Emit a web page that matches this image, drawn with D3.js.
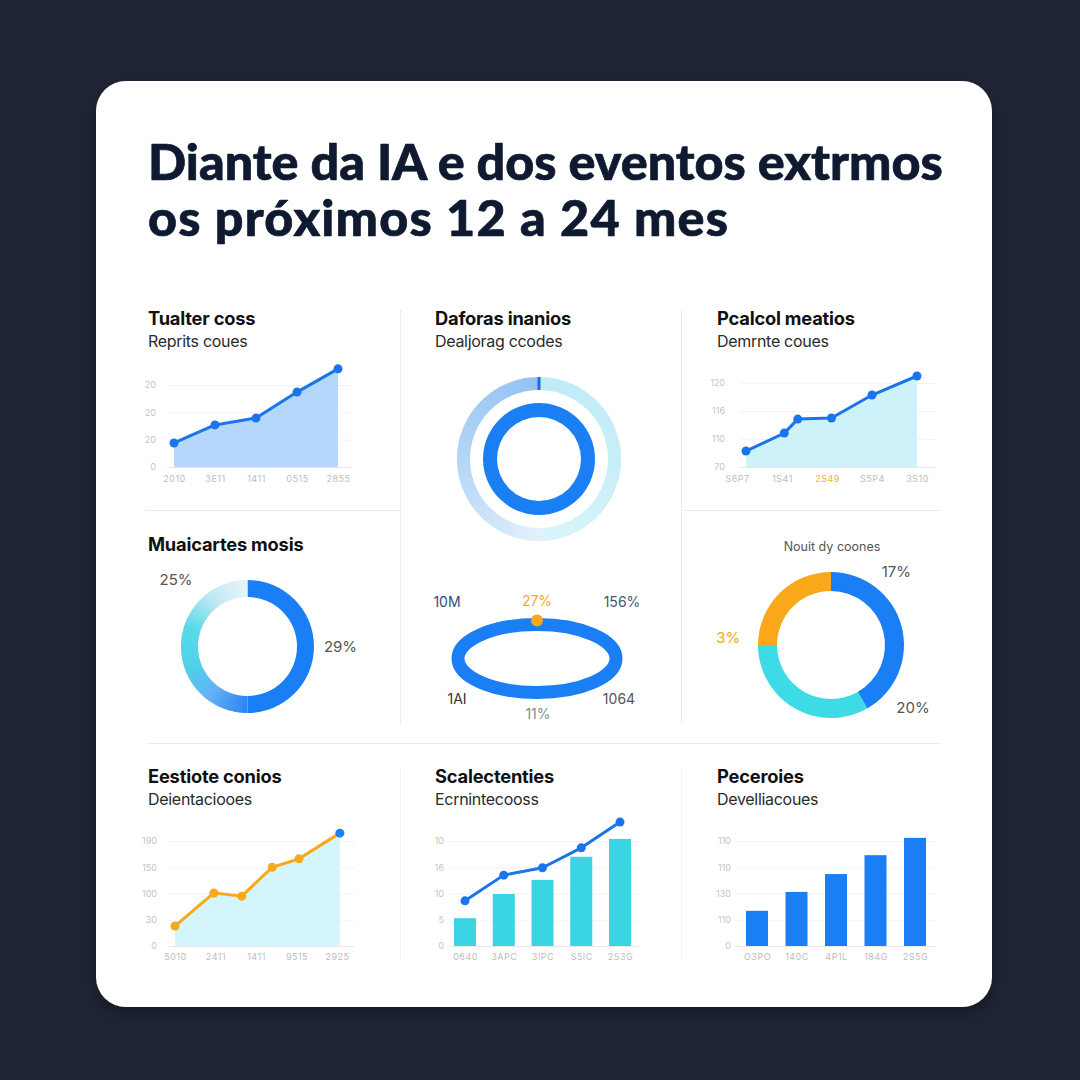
<!DOCTYPE html>
<html><head><meta charset="utf-8">
<script src="https://cdn.jsdelivr.net/npm/d3@7"></script>
<style>html,body{margin:0;padding:0;background:#1f2535;} svg{display:block}</style>
</head><body>
<script>
// ---------------- DATA ----------------
const titleLines = ["Diante da IA e dos eventos extrmos", "os próximos 12 a 24 mes"];

const p1Title = "Tualter coss", p1Subtitle = "Reprits coues";
const p1Labels = ["2010", "3E11", "1411", "0515", "2855"];
const p1Values = [8.8, 15.4, 17.9, 27.4, 35.9];
const p1Ticks = [0, 10, 20, 30];
const p1TickLabels = ["0", "20", "20", "20"];

const p2Title = "Daforas inanios", p2Subtitle = "Dealjorag ccodes";
const p2OuterValues = [50, 50];
const p2InnerValues = [100];

const p3Title = "Pcalcol meatios", p3Subtitle = "Demrnte coues";
const p3Labels = ["S6P7", "1S41", "2S49", "S5P4", "3S10"];
const p3PointPos = [0.2, 1.05, 1.35, 2.1, 3.0, 4.0];
const p3Values = [5.7, 12.1, 17.1, 17.5, 25.7, 32.5];
const p3Ticks = [0, 10, 20, 30];
const p3TickLabels = ["70", "110", "116", "120"];

const p4Title = "Muaicartes mosis";
const p4Values = [50, 50];
const p4Labels = ["29%", "25%"];

const p5Labels = ["10M", "27%", "156%", "1AI", "11%", "1064"];

const p6Caption = "Nouit dy coones";
const p6Values = [41.8, 33.3, 25];
const p6Labels = ["17%", "20%", "3%"];

const p7Title = "Eestiote conios", p7Subtitle = "Deientaciooes";
const p7Labels = ["5010", "2411", "1411", "9515", "2925"];
const p7PointPos = [0, 0.96, 1.65, 2.4, 3.06, 4.07];
const p7Values = [38, 101, 95, 150, 166, 215];
const p7Ticks = [0, 50, 100, 150, 200];
const p7TickLabels = ["0", "30", "100", "150", "190"];

const p8Title = "Scalectenties", p8Subtitle = "Ecrnintecooss";
const p8Labels = ["0640", "3APC", "3IPC", "S5IC", "2S3G"];
const p8Bars = [5.3, 9.9, 12.6, 17.0, 20.4];
const p8Line = [8.6, 13.5, 14.9, 18.7, 23.6];
const p8Ticks = [0, 5, 10, 15, 20];
const p8TickLabels = ["0", "5", "10", "16", "10"];

const p9Title = "Peceroies", p9Subtitle = "Develliacoues";
const p9Labels = ["O3PO", "140C", "4P1L", "184G", "2S5G"];
const p9Bars = [6.7, 10.3, 13.7, 17.3, 20.6];
const p9Ticks = [0, 5, 10, 15, 20];
const p9TickLabels = ["0", "110", "130", "110", "110"];

// ---------------- STYLE ----------------
const BLUE = "#1a74ee", BAR_BLUE = "#1a7ff5", CYAN = "#3ad4e2", ORANGE = "#f7a81b";
const FONT = "Inter, 'Noto Sans', sans-serif";
const W = 1080, H = 1080;

const svg = d3.select("body").append("svg").attr("width", W).attr("height", H);
svg.append("rect").attr("width", W).attr("height", H).attr("fill", "#1f2535");

const defs = svg.append("defs");
const sh = defs.append("filter").attr("id", "sh").attr("x", "-10%").attr("y", "-10%").attr("width", "120%").attr("height", "120%");
sh.append("feDropShadow").attr("dx", 0).attr("dy", 6).attr("stdDeviation", 10).attr("flood-color", "#000").attr("flood-opacity", 0.35);

svg.append("rect").attr("x", 96).attr("y", 81).attr("width", 896).attr("height", 926)
  .attr("rx", 30).attr("fill", "#ffffff").attr("filter", "url(#sh)");

// main title
const TCOL = "#0f1a30";
function titleText(y, t) {
  return svg.append("text").attr("x", 148).attr("y", y).text(t)
    .attr("font-family", "Lato, sans-serif").attr("font-weight", 900).attr("font-size", 48)
    .attr("fill", TCOL).attr("stroke", TCOL).attr("stroke-width", 0.7).attr("stroke-linejoin", "round");
}
const t1 = titleText(180, titleLines[0]);
const fs = 48 * 795 / t1.node().getComputedTextLength();
t1.attr("font-size", fs);
const t2 = titleText(236, titleLines[1]).attr("font-size", fs);
const w2 = t2.node().getComputedTextLength();
t2.attr("letter-spacing", (580 - w2) / (titleLines[1].length - 1));

// dividers
const divColor = "#ececec";
function vline(x, y1, y2, c) { svg.append("line").attr("x1", x).attr("x2", x).attr("y1", y1).attr("y2", y2).attr("stroke", c || divColor).attr("stroke-width", 1); }
function hline(y, x1, x2, c) { svg.append("line").attr("x1", x1).attr("x2", x2).attr("y1", y).attr("y2", y).attr("stroke", c || divColor).attr("stroke-width", 1); }
vline(400.5, 310, 725); vline(681.5, 310, 725);
hline(510.5, 145, 400); hline(510.5, 681, 940);
hline(743.5, 148, 940);
vline(400.5, 768, 960, "#f3f3f3"); vline(681.5, 768, 960, "#f3f3f3");

// titles
function panelTitle(x, y, title, sub) {
  svg.append("text").attr("x", x).attr("y", y).text(title)
    .attr("font-family", FONT).attr("font-weight", 700).attr("font-size", 18.3).attr("fill", "#111")
    .attr("letter-spacing", -0.2);
  if (sub) svg.append("text").attr("x", x).attr("y", y + 22).text(sub)
    .attr("font-family", FONT).attr("font-weight", 400).attr("font-size", 16).attr("fill", "#2a2a2a")
    .attr("letter-spacing", -0.3);
}
panelTitle(148, 325, p1Title, p1Subtitle);
panelTitle(435, 325, p2Title, p2Subtitle);
panelTitle(717, 325, p3Title, p3Subtitle);
panelTitle(148, 551, p4Title, null);
panelTitle(148, 783, p7Title, p7Subtitle);
panelTitle(435, 783, p8Title, p8Subtitle);
panelTitle(717, 783, p9Title, p9Subtitle);

// axis helpers
function yAxis(g, y, ticks, labels, xLabel, gx0, gx1) {
  const grid = g.append("g").attr("transform", `translate(${gx0},0)`)
    .call(d3.axisLeft(y).tickValues(ticks).tickSize(-(gx1 - gx0)).tickFormat(""));
  grid.select(".domain").remove();
  grid.selectAll(".tick line").attr("stroke", (d) => d === 0 ? "#e8e8e8" : "#f3f3f3");
  const ax = g.append("g").attr("transform", `translate(${xLabel},0)`)
    .call(d3.axisLeft(y).tickValues(ticks).tickSize(0).tickPadding(0).tickFormat((d, i) => labels[i]));
  ax.select(".domain").remove();
  ax.selectAll("text").attr("font-family", FONT).attr("font-size", 9).attr("fill", "#c4c4c4");
}
function xAxis(g, x, ticks, labels, yPos, colorFn) {
  const ax = g.append("g").attr("transform", `translate(0,${yPos})`)
    .call(d3.axisBottom(x).tickValues(ticks).tickSize(0).tickPadding(0).tickFormat((d, i) => labels[i]));
  ax.select(".domain").remove();
  ax.selectAll("text").attr("font-family", FONT).attr("font-size", 9).attr("fill", (d, i) => colorFn ? colorFn(i) : "#bdbdbd")
    .attr("letter-spacing", 0.5).attr("dy", "0.7em");
}

// ---------- Panel 1 ----------
{
  const g = svg.append("g");
  const x = d3.scalePoint().domain(p1Labels).range([174, 338]);
  const y = d3.scaleLinear().domain([0, 30]).range([467, 385]);
  yAxis(g, y, p1Ticks, p1TickLabels, 156, 167, 352);
  xAxis(g, x, p1Labels, p1Labels, 476);
  const pts = p1Values.map((v, i) => [x(p1Labels[i]), y(v)]);
  g.append("path").datum(pts).attr("d", d3.area().x(d => d[0]).y0(y(0)).y1(d => d[1])).attr("fill", "#b4d7fb");
  g.append("path").datum(pts).attr("d", d3.line()).attr("fill", "none").attr("stroke", BLUE).attr("stroke-width", 3).attr("stroke-linejoin", "round");
  g.selectAll("circle").data(pts).join("circle").attr("cx", d => d[0]).attr("cy", d => d[1]).attr("r", 4.5).attr("fill", BLUE);
}

// gradient arc helper
function gradArc(g, r0, r1, a0, a1, colors, steps) {
  steps = steps || 90;
  const arc = d3.arc().innerRadius(r0).outerRadius(r1);
  const interp = d3.piecewise(d3.interpolateRgb, colors);
  for (let i = 0; i < steps; i++) {
    const s = a0 + (a1 - a0) * i / steps, e = a0 + (a1 - a0) * (i + 1) / steps;
    g.append("path").attr("d", arc({ startAngle: s, endAngle: e + (i < steps - 1 ? 0.01 : 0) })).attr("fill", interp(i / (steps - 1)));
  }
}

// ---------- Panel 2 ----------
{
  const g = svg.append("g").attr("transform", "translate(539,459)");
  const pie = d3.pie().sort(null).value(d => d);
  const outer = pie(p2OuterValues);
  gradArc(g, 69, 82, outer[0].startAngle, outer[0].endAngle, ["#bfeaf6", "#c6eff7", "#dcf4fa"]);
  gradArc(g, 69, 82, outer[1].startAngle, outer[1].endAngle, ["#e2f0fb", "#c3ddf8", "#a8cff6", "#93c2f3"]);
  g.append("rect").attr("x", -1.5).attr("y", -82).attr("width", 3).attr("height", 13).attr("fill", "#1a6fe0");
  const inner = pie(p2InnerValues);
  g.selectAll(".in").data(inner).join("path").attr("d", d3.arc().innerRadius(42).outerRadius(56)).attr("fill", BAR_BLUE);
}

// ---------- Panel 3 ----------
{
  const g = svg.append("g");
  const x = d3.scaleLinear().domain([0, 4]).range([737, 917]);
  const y = d3.scaleLinear().domain([0, 30]).range([467, 383]);
  yAxis(g, y, p3Ticks, p3TickLabels, 725, 740, 935);
  xAxis(g, x, d3.range(p3Labels.length), p3Labels, 476, i => i === 2 ? "#f0b21d" : "#bdbdbd");
  const pts = p3Values.map((v, i) => [x(p3PointPos[i]), y(v)]);
  g.append("path").datum(pts).attr("d", d3.area().x(d => d[0]).y0(y(0)).y1(d => d[1])).attr("fill", "#cdf2fa");
  g.append("path").datum(pts).attr("d", d3.line()).attr("fill", "none").attr("stroke", BLUE).attr("stroke-width", 3).attr("stroke-linejoin", "round");
  g.selectAll("circle").data(pts).join("circle").attr("cx", d => d[0]).attr("cy", d => d[1]).attr("r", 4.5).attr("fill", BLUE);
}

// ---------- Panel 4 ----------
{
  const g = svg.append("g").attr("transform", "translate(247.5,646.5)");
  const arcs = d3.pie().sort(null).value(d => d)(p4Values);
  g.append("path").attr("d", d3.arc().innerRadius(49.5).outerRadius(66.5)(arcs[0])).attr("fill", BAR_BLUE);
  gradArc(g, 49.5, 66.5, arcs[1].startAngle, arcs[1].endAngle, ["#2a86f2", "#64b0f4", "#4fd2e8", "#58d9e8", "#bfe9f3", "#e6f4fa"]);
  const lab = [[93, Math.PI / 2], [98, Math.PI * 1.74]];
  p4Labels.forEach((t, i) => {
    const [r, a] = lab[i];
    svg.append("text").attr("x", 247.5 + r * Math.sin(a)).attr("y", 646.5 - r * Math.cos(a)).attr("dy", "0.35em")
      .attr("text-anchor", "middle").text(t).attr("font-family", FONT).attr("font-size", 15).attr("fill", "#555");
  });
}

// ---------- Panel 5 ----------
{
  const cx = 537, cy = 658.5;
  svg.append("ellipse").attr("cx", cx).attr("cy", cy).attr("rx", 79).attr("ry", 34)
    .attr("fill", "none").attr("stroke", BAR_BLUE).attr("stroke-width", 13);
  svg.append("circle").attr("cx", cx).attr("cy", cy - 38).attr("r", 6).attr("fill", ORANGE);
  const pos = [[-90, -56], [0, -57], [85, -56], [-80, 41], [1, 56], [82, 41]];
  const cols = ["#34497a", ORANGE, "#4b556f", "#333", "#8a8a8a", "#555"];
  p5Labels.forEach((t, i) => {
    svg.append("text").attr("x", cx + pos[i][0]).attr("y", cy + pos[i][1]).attr("dy", "0.35em")
      .attr("text-anchor", "middle").text(t).attr("font-family", FONT).attr("font-size", 14).attr("fill", cols[i]);
  });
}

// ---------- Panel 6 ----------
{
  svg.append("text").attr("x", 832).attr("y", 551).attr("text-anchor", "middle").text(p6Caption)
    .attr("font-family", FONT).attr("font-size", 12.5).attr("fill", "#555");
  const g = svg.append("g").attr("transform", "translate(831,645)");
  const arcs = d3.pie().sort(null).value(d => d)(p6Values);
  const colors = [BAR_BLUE, "#3ddbe6", "#f9a81a"];
  g.selectAll("path").data(arcs).join("path").attr("d", d3.arc().innerRadius(54).outerRadius(73)).attr("fill", (d, i) => colors[i]);
  const lab = [[98, 0.73], [103, 2.22], [103, 4.78]];
  const lc = ["#555", "#555", "#f0a818"];
  p6Labels.forEach((t, i) => {
    const [r, a] = lab[i];
    svg.append("text").attr("x", 831 + r * Math.sin(a)).attr("y", 645 - r * Math.cos(a)).attr("dy", "0.35em")
      .attr("text-anchor", "middle").text(t).attr("font-family", FONT).attr("font-size", 15).attr("fill", lc[i]);
  });
}

// ---------- Panel 7 ----------
{
  const g = svg.append("g");
  const x = d3.scaleLinear().domain([0, 4]).range([175, 337]);
  const y = d3.scaleLinear().domain([0, 200]).range([946, 841]);
  yAxis(g, y, p7Ticks, p7TickLabels, 157, 168, 355);
  xAxis(g, x, d3.range(p7Labels.length), p7Labels, 954);
  const pts = p7Values.map((v, i) => [x(p7PointPos[i]), y(v)]);
  g.append("path").datum(pts).attr("d", d3.area().x(d => d[0]).y0(y(0)).y1(d => d[1])).attr("fill", "#d3f5fb");
  g.append("path").datum(pts).attr("d", d3.line()).attr("fill", "none").attr("stroke", ORANGE).attr("stroke-width", 3).attr("stroke-linejoin", "round");
  g.selectAll("circle").data(pts).join("circle").attr("cx", d => d[0]).attr("cy", d => d[1]).attr("r", 4.5)
    .attr("fill", (d, i) => i === pts.length - 1 ? BAR_BLUE : ORANGE);
}

// ---------- Panel 8 ----------
{
  const g = svg.append("g");
  const x = d3.scalePoint().domain(p8Labels).range([465, 620]);
  const y = d3.scaleLinear().domain([0, 20]).range([946, 841]);
  yAxis(g, y, p8Ticks, p8TickLabels, 444, 450, 638);
  xAxis(g, x, p8Labels, p8Labels, 954);
  const bw = 22;
  g.selectAll(".bar").data(p8Bars).join("rect").attr("x", (d, i) => x(p8Labels[i]) - bw / 2).attr("width", bw)
    .attr("y", d => y(d)).attr("height", d => y(0) - y(d)).attr("fill", CYAN);
  const pts = p8Line.map((v, i) => [x(p8Labels[i]), y(v)]);
  g.append("path").datum(pts).attr("d", d3.line()).attr("fill", "none").attr("stroke", BLUE).attr("stroke-width", 3).attr("stroke-linejoin", "round");
  g.selectAll("circle").data(pts).join("circle").attr("cx", d => d[0]).attr("cy", d => d[1]).attr("r", 4.5).attr("fill", BLUE);
}

// ---------- Panel 9 ----------
{
  const g = svg.append("g");
  const x = d3.scalePoint().domain(p9Labels).range([757, 915]);
  const y = d3.scaleLinear().domain([0, 20]).range([946, 841]);
  yAxis(g, y, p9Ticks, p9TickLabels, 731, 735, 935);
  xAxis(g, x, p9Labels, p9Labels, 954);
  const bw = 22;
  g.selectAll(".bar").data(p9Bars).join("rect").attr("x", (d, i) => x(p9Labels[i]) - bw / 2).attr("width", bw)
    .attr("y", d => y(d)).attr("height", d => y(0) - y(d)).attr("fill", BAR_BLUE);
}
</script>
</body></html>
